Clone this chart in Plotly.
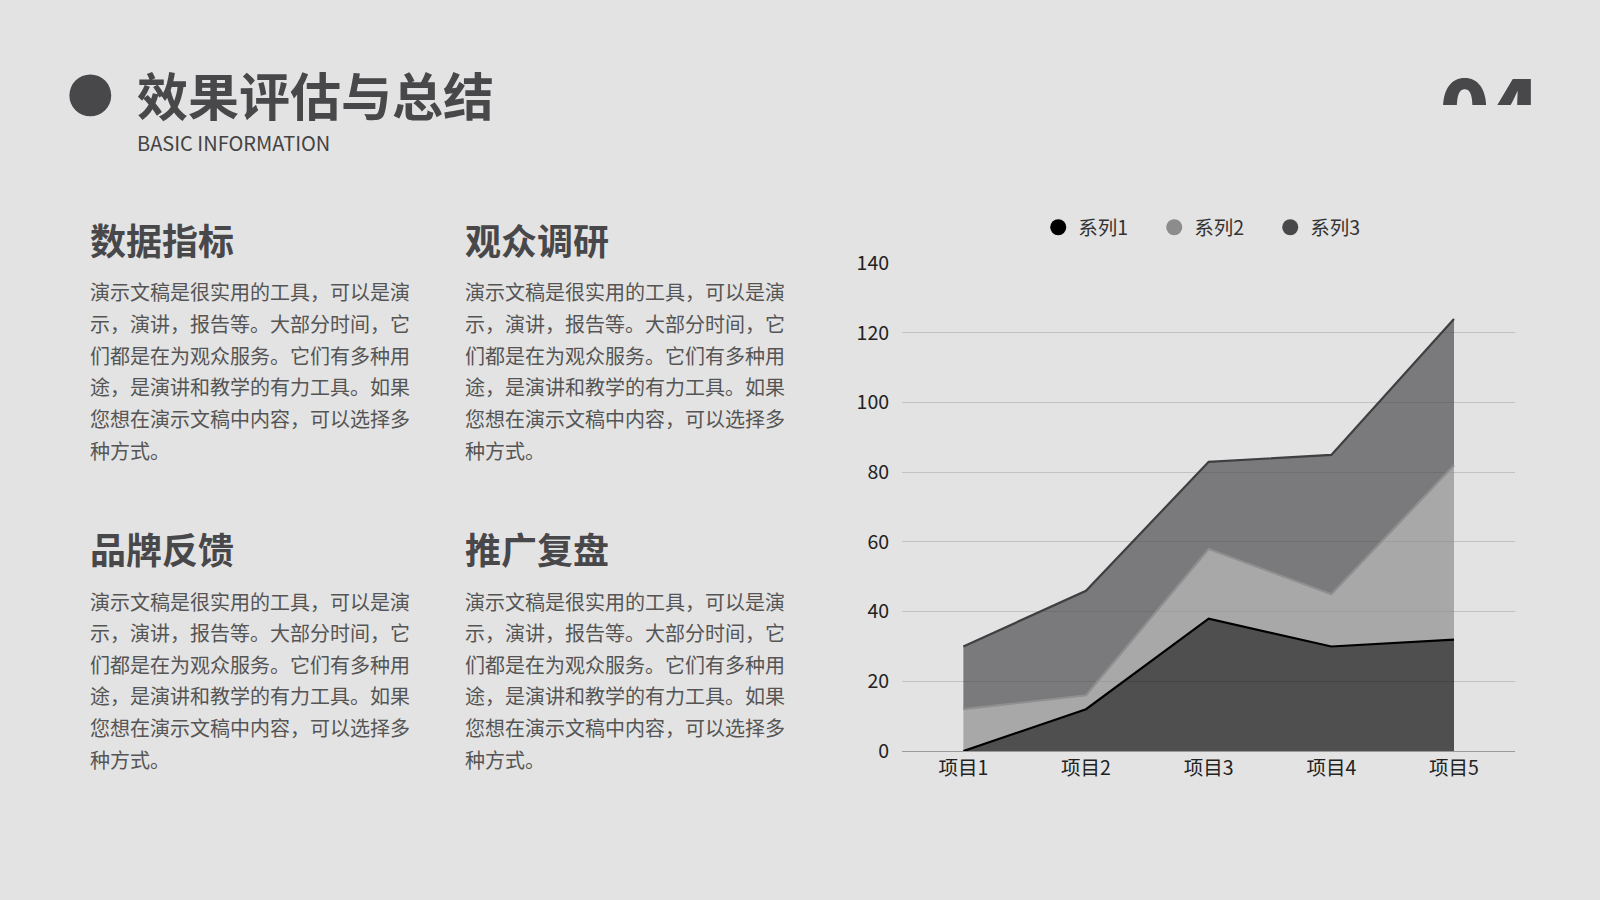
import plotly.graph_objects as go

# chart data
categories = ["项目1", "项目2", "项目3", "项目4", "项目5"]
series_names = ["系列1", "系列2", "系列3"]
series1 = [0, 12, 38, 30, 32]
series2 = [12, 4, 20, 15, 50]
series3 = [18, 30, 25, 40, 42]

title_text = "效果评估与总结"
subtitle_text = "BASIC INFORMATION"
section_titles = ["数据指标", "观众调研", "品牌反馈", "推广复盘"]
body_lines = [
    "演示文稿是很实用的工具，可以是演",
    "示，演讲，报告等。大部分时间，它",
    "们都是在为观众服务。它们有多种用",
    "途，是演讲和教学的有力工具。如果",
    "您想在演示文稿中内容，可以选择多",
    "种方式。",
]

W, H = 1600, 900
REF_W, REF_H = 1568, 882
BG = "#e3e3e3"
DARK = "#48474a"
FONT = "Noto Sans CJK SC"


def px(x):
    return x / REF_W


def py(y):
    return 1 - y / REF_H


line_colors = ["#000000", "#8f8f8f", "#3f3e40"]
fill_colors = ["rgba(0,0,0,0.65)", "rgba(140,140,140,0.68)", "rgba(72,71,74,0.68)"]
legend_colors = ["#000000", "#8c8c8c", "#48474a"]

fig = go.Figure()

for i, vals in enumerate([series1, series2, series3]):
    fig.add_trace(go.Scatter(
        x=categories, y=vals, stackgroup="one", mode="lines",
        line=dict(color=line_colors[i], width=2.2),
        fillcolor=fill_colors[i], showlegend=False, hoverinfo="skip",
    ))
for i, name in enumerate(series_names):
    fig.add_trace(go.Scatter(
        x=[None], y=[None], mode="markers", name=name,
        marker=dict(color=legend_colors[i], size=20),
    ))

# big "04" in the corner, lower half clipped off by its own little axis box
fig.add_trace(go.Scatter(
    x=[0.5], y=[-0.25], text=["04"], mode="text", textposition="middle center",
    textfont=dict(family=FONT, size=82, color=DARK, weight=900),
    cliponaxis=True, showlegend=False, hoverinfo="skip",
    xaxis="x2", yaxis="y2",
))

annotations = [
    dict(x=px(132), y=py(92), text=title_text, xanchor="left", yanchor="middle",
         font=dict(family=FONT, size=51, color=DARK, weight="bold")),
    dict(x=px(132), y=py(140), text=subtitle_text, xanchor="left", yanchor="middle",
         font=dict(family=FONT, size=20, color="#444444")),
]
section_pos = [(86, 234), (454, 234), (86, 537), (454, 537)]
for (sx, sy), head in zip(section_pos, section_titles):
    annotations.append(dict(
        x=px(sx), y=py(sy), text=head, xanchor="left", yanchor="middle",
        font=dict(family=FONT, size=36, color=DARK, weight="bold")))
    for j, line in enumerate(body_lines):
        annotations.append(dict(
            x=px(sx), y=py(sy + 52 + 31 * j), text=line, xanchor="left", yanchor="middle",
            font=dict(family=FONT, size=20, color="#555555")))
for a in annotations:
    a.update(xref="paper", yref="paper", showarrow=False)

fig.update_layout(
    width=W, height=H,
    margin=dict(l=0, r=0, t=0, b=0),
    paper_bgcolor=BG, plot_bgcolor=BG,
    font=dict(family=FONT, color="#222222", size=19),
    showlegend=True,
    legend=dict(orientation="h", x=px(1188), y=py(223), xanchor="center", yanchor="middle",
                traceorder="normal", font=dict(size=19.5, color="#333333"),
                entrywidth=71, bgcolor="rgba(0,0,0,0)"),
    xaxis=dict(domain=[px(884), px(1485)], range=[-0.5, 4.5], showgrid=False,
               showline=True, linecolor="#9a9a9a", linewidth=1, ticks="",
               tickfont=dict(size=19.5, color="#222222"), fixedrange=True, automargin=False),
    yaxis=dict(domain=[py(736), py(258)], range=[0, 140], dtick=20,
               showgrid=True, gridcolor="#c2c2c2", gridwidth=1, zeroline=False,
               showline=False, ticklabelstandoff=12, automargin=False,
               tickfont=dict(size=19.5, color="#222222"), fixedrange=True),
    xaxis2=dict(domain=[px(1393), px(1527)], range=[0, 1], visible=False, fixedrange=True),
    yaxis2=dict(domain=[py(103), py(50)], range=[0, 1], visible=False, fixedrange=True),
    shapes=[dict(type="circle", xref="paper", yref="paper",
                 x0=px(68), x1=px(109), y0=py(114), y1=py(73),
                 fillcolor=DARK, line=dict(width=0))],
    annotations=annotations,
)

fig.write_html(
    "out.html",
    config={"displayModeBar": False},
    post_script="document.body.style.margin='0';document.body.style.overflow='hidden';"
                "document.body.style.background='#e3e3e3';"
                "var d=document.getElementById('{plot_id}');"
                "d.style.position='fixed';d.style.top='0';d.style.left='0';",
)
